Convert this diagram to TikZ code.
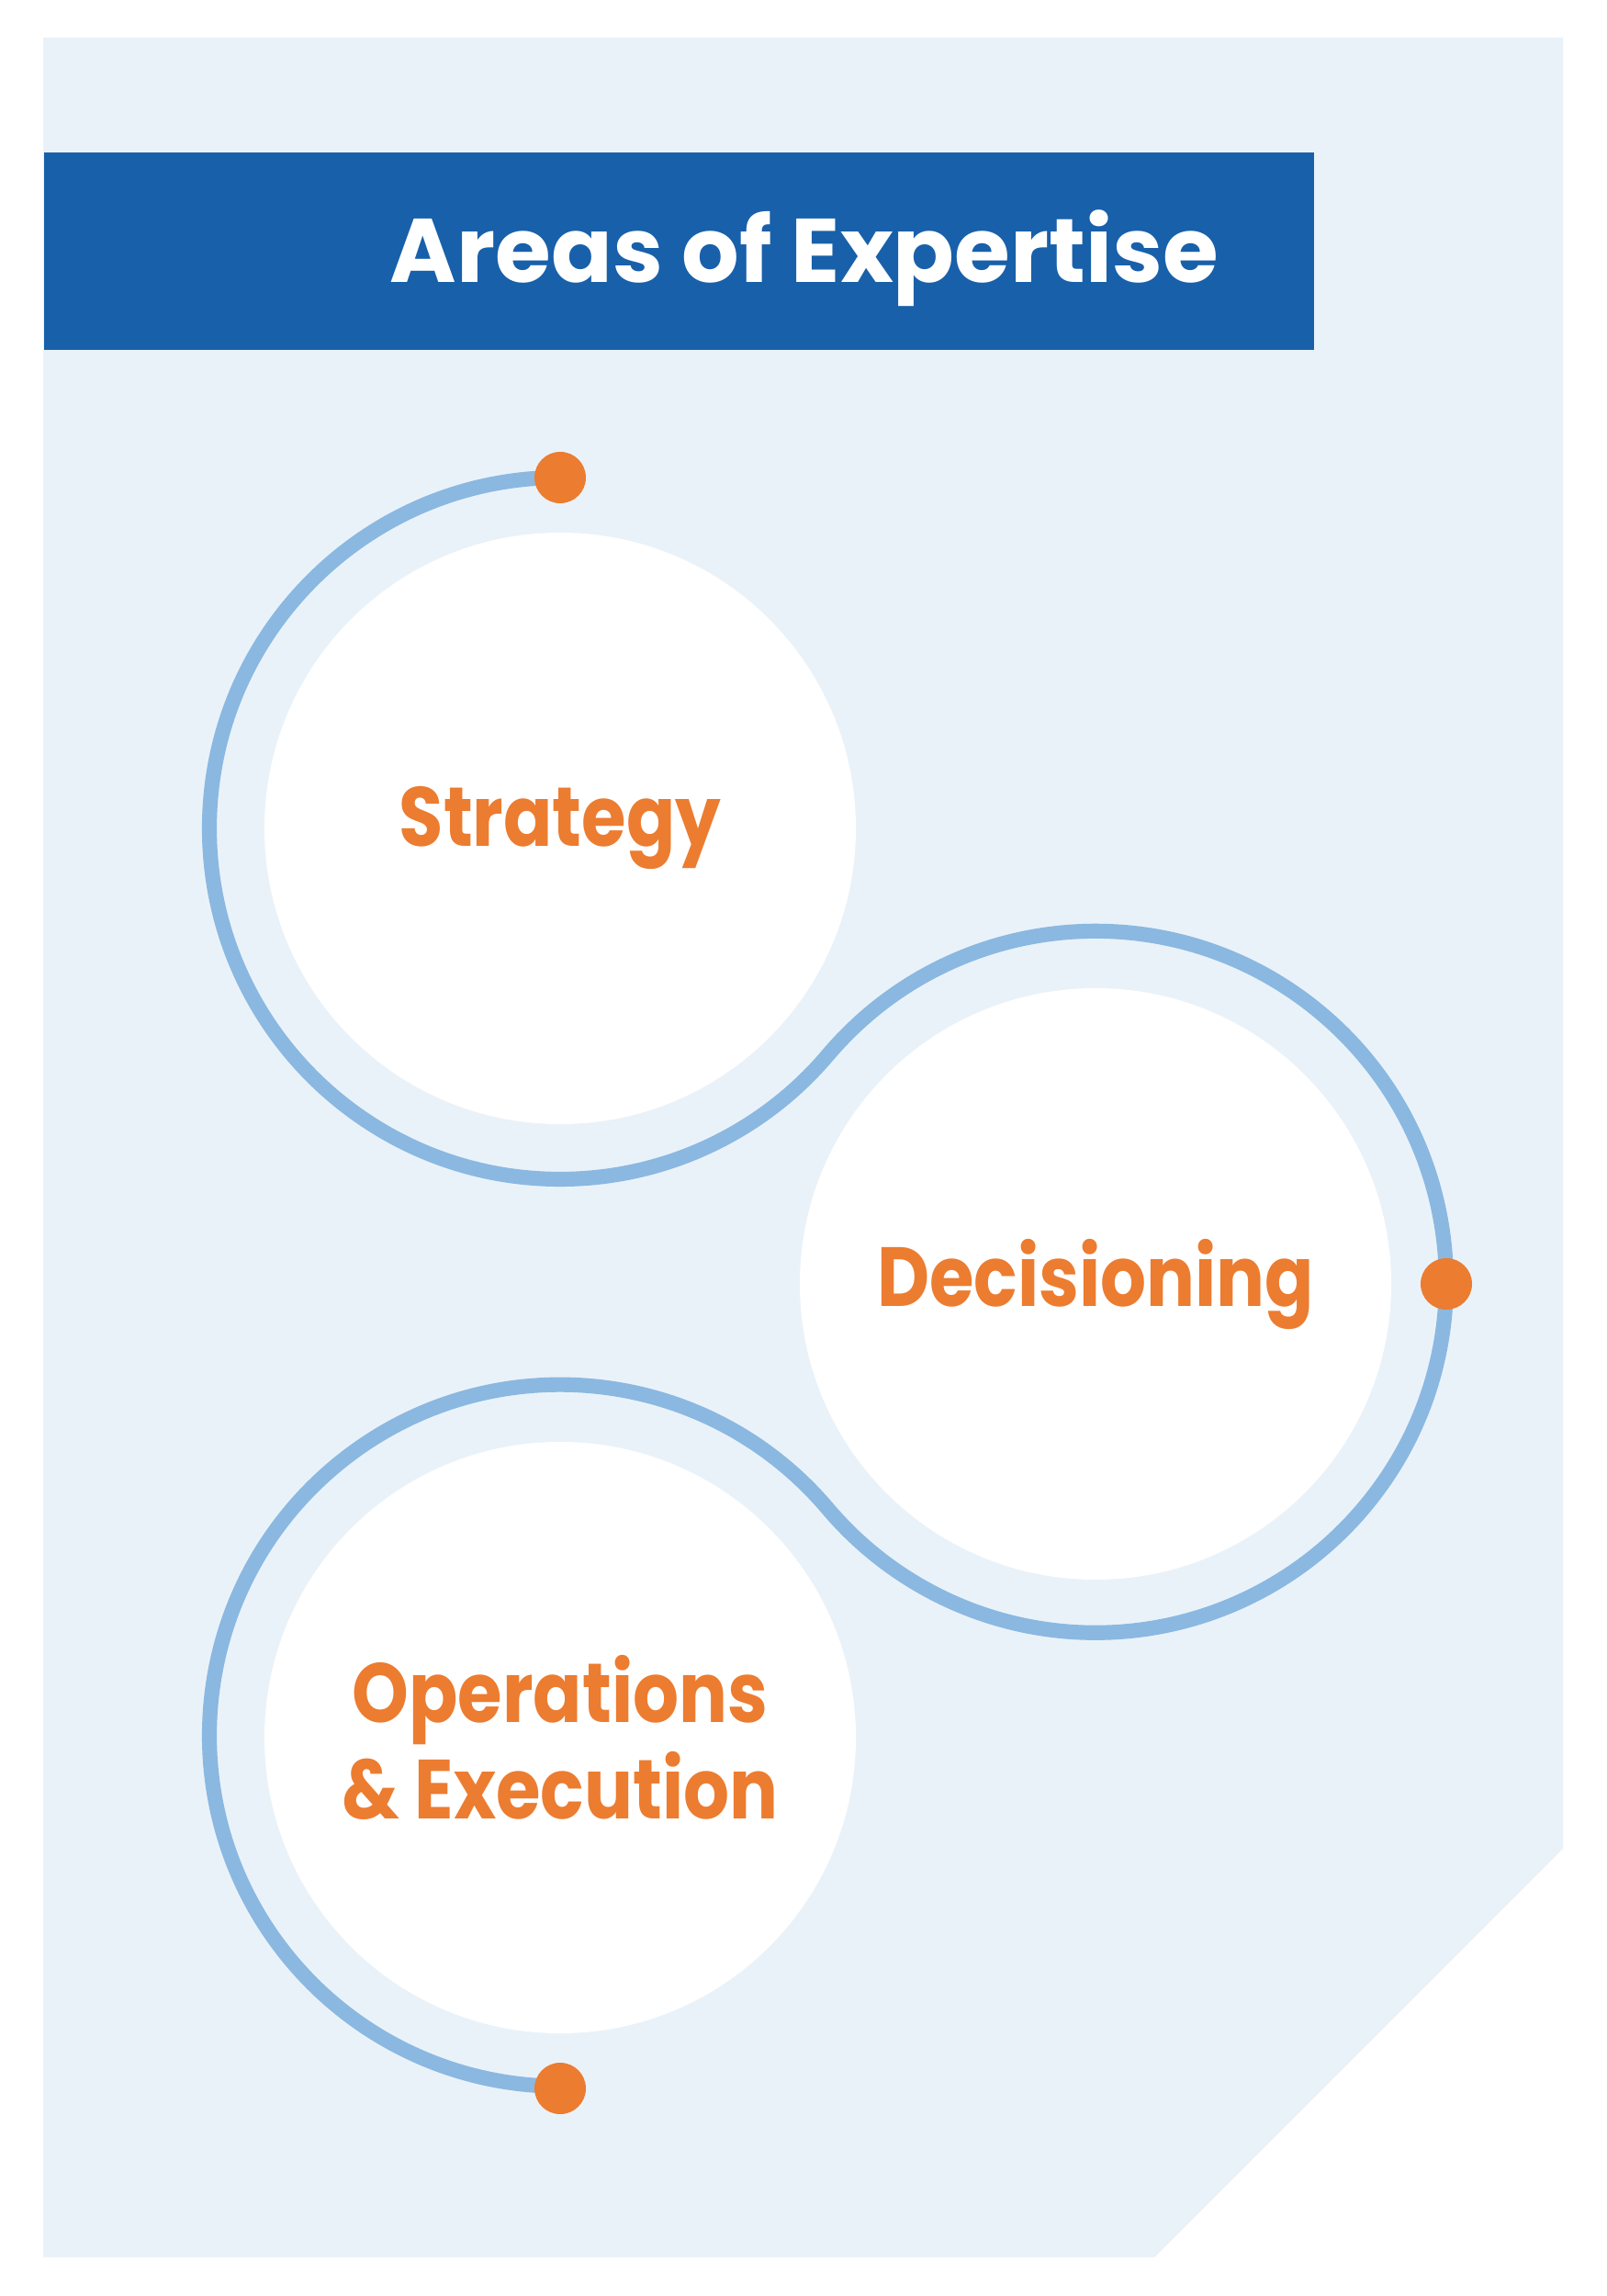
\documentclass[tikz,border=0pt]{standalone}
\usepackage{fontspec}
\setmainfont{Poppins}
\newfontfamily\areafont{Poppins}[FakeStretch=0.86]
\usepackage{xcolor}
\usepackage{tikz}
\usetikzlibrary{positioning,calc}

\definecolor{panelbg}{HTML}{EAF2F9}
\definecolor{barblue}{HTML}{1860AA}
\definecolor{ringblue}{HTML}{8AB8E1}
\definecolor{dotorange}{HTML}{EC7C30}

\begin{document}
\begin{tikzpicture}[
  area/.style={circle, fill=white, inner sep=0pt, minimum size=6.44cm,
    text=dotorange, font=\areafont\bfseries\fontsize{26}{30}\selectfont, align=center},
  ring/.style={draw=ringblue, line width=4.6pt},
  enddot/.style={circle, fill=dotorange, inner sep=0pt, minimum size=0.56cm}
]
\useasboundingbox (0,0) rectangle (17.5,25);
% light panel with the cut corner
\fill[panelbg] (0.47,24.59) -- (17.02,24.59) -- (17.02,4.87) -- (12.57,0.42) -- (0.47,0.42) -- cycle;
% heading
\node[fill=barblue, inner sep=0pt, minimum width=13.83cm, minimum height=2.15cm, anchor=north west] (bar) at (0.47,23.35) {};
\node[anchor=base, text=white, font=\bfseries\fontsize{28}{32}\selectfont] (title) at (8.76,21.92) {Areas of Expertise};
% the three areas
\node[area] (strat) at (6.10,15.98) {Strategy};
\node[area] (decis) at (11.93,11.02) {Decisioning};
\node[area] (ops) at (6.10,6.08) {Operations\\\& Execution};
% the winding ring, one arc per circle
\coordinate (top) at ($(strat.center)+(0,3.82)$);
\coordinate (side) at ($(decis.center)+(3.82,0)$);
\coordinate (foot) at ($(ops.center)+(0,-3.82)$);
\draw[ring] (top) arc[start angle=90, end angle=319.73, radius=3.82cm]
  arc[start angle=139.73, end angle=-139.73, radius=3.82cm]
  arc[start angle=40.27, end angle=270, radius=3.82cm];
\foreach \p in {top,side,foot}
  \node[enddot] (dot-\p) at (\p) {};
\end{tikzpicture}
\end{document}
